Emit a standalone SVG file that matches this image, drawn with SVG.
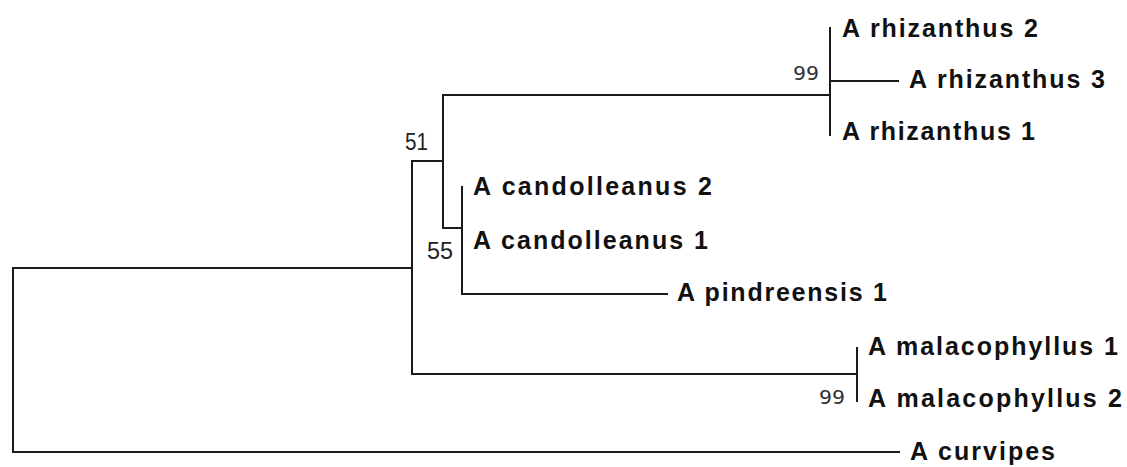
<svg xmlns="http://www.w3.org/2000/svg" width="1127" height="467" viewBox="0 0 1127 467">
<style>
.br{fill:none;stroke:#1a1a1a;stroke-width:2;stroke-linecap:square}
.tx{font-family:"Liberation Sans",Arial,sans-serif;font-weight:bold;font-size:25px;fill:#111}
.bs{font-family:"Liberation Sans",Arial,sans-serif;font-size:24px;fill:#222}
.b9{font-family:"DejaVu Sans Mono","Liberation Mono",monospace;font-size:19px;fill:#333}
</style>
<rect width="1127" height="467" fill="#ffffff"/>
<g id="connectors">
<path class="br" d="M13,268 V452 M13,268 H412 M13,452 H899"/>
<path class="br" d="M412,161 V374 M412,161 H443 M412,374 H857"/>
<path class="br" d="M443,95 V228 M443,95 H830 M443,228 H462"/>
<path class="br" d="M830,28 V135 M830,81 H898"/>
<path class="br" d="M462,187 V294 M462,294 H667"/>
<path class="br" d="M857,348 V401"/>
</g>
<g id="bootstrap">
<text class="b9" x="793" y="80" textLength="26" lengthAdjust="spacingAndGlyphs">99</text>
<text class="bs" x="405" y="150" textLength="23" lengthAdjust="spacingAndGlyphs">51</text>
<text class="bs" x="427" y="259" textLength="26" lengthAdjust="spacingAndGlyphs">55</text>
<text class="b9" x="819" y="404" textLength="26" lengthAdjust="spacingAndGlyphs">99</text>
</g>
<g id="rhizanthus2"><text class="tx" x="842" y="37" textLength="196" lengthAdjust="spacing">A rhizanthus 2</text></g>
<g id="rhizanthus3"><text class="tx" x="909" y="88" textLength="196" lengthAdjust="spacing">A rhizanthus 3</text></g>
<g id="rhizanthus1"><text class="tx" x="842" y="140" textLength="193" lengthAdjust="spacing">A rhizanthus 1</text></g>
<g id="candolleanus2"><text class="tx" x="473" y="195" textLength="239" lengthAdjust="spacing">A candolleanus 2</text></g>
<g id="candolleanus1"><text class="tx" x="473" y="249" textLength="235" lengthAdjust="spacing">A candolleanus 1</text></g>
<g id="pindreensis1"><text class="tx" x="677" y="301" textLength="210" lengthAdjust="spacing">A pindreensis 1</text></g>
<g id="malacophyllus1"><text class="tx" x="868" y="355" textLength="250" lengthAdjust="spacing">A malacophyllus 1</text></g>
<g id="malacophyllus2"><text class="tx" x="868" y="407" textLength="254" lengthAdjust="spacing">A malacophyllus 2</text></g>
<g id="curvipes"><text class="tx" x="910" y="460" textLength="145" lengthAdjust="spacing">A curvipes</text></g>
</svg>
